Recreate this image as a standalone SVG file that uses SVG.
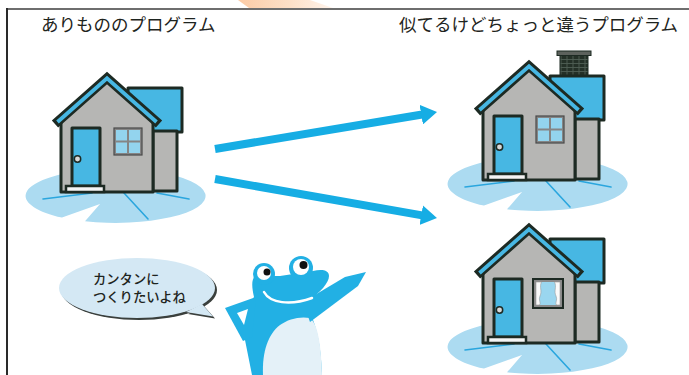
<svg xmlns="http://www.w3.org/2000/svg" width="689" height="375" viewBox="0 0 689 375">
  <defs>
    <style>
      .title{font-family:"Noto Sans CJK JP","Noto Sans CJK SC",sans-serif;font-size:17.5px;font-weight:400;fill:#1e2420}
      .say{font-family:"Noto Sans CJK JP","Noto Sans CJK SC",sans-serif;font-size:13.3px;font-weight:500;fill:#1e2420}
      .ol{stroke:#1d2a23;stroke-width:3;stroke-linejoin:round}
      .wall{fill:#b6b6b4}
      .blue{fill:#47b7e3}
      .pad{fill:#acdbf1}
      .vein{stroke:#2aa6de;stroke-width:1.6;fill:none;stroke-linecap:round}
      .arrow{stroke:#16ade4;stroke-width:8;fill:none}
      .frog{fill:#22b0e4}
    </style>
    <marker id="head" viewBox="0 -10 16 20" refX="1" refY="0" markerWidth="16" markerHeight="20" markerUnits="userSpaceOnUse" orient="auto">
      <path d="M0,-10 L16,0 L0,10 Z" fill="#16ade4"/>
    </marker>
    <linearGradient id="tab" x1="0" y1="0" x2="1" y2="0">
      <stop offset="0" stop-color="#fbcba6"/>
      <stop offset="0.55" stop-color="#fde0c8"/>
      <stop offset="1" stop-color="#fff4ec"/>
    </linearGradient>
    <pattern id="brick" width="6" height="4" patternUnits="userSpaceOnUse">
      <rect width="6" height="4" fill="#243027"/>
      <path d="M0 3.5H6M1 0V3.5" stroke="#56645a" stroke-width="0.8"/>
    </pattern>

    <!-- shared house: pad, walls, roofs, door and step -->
    <g id="house-shell">
      <path class="pad" d="M62 217.6 L100 204 L85 221.3 A90 27 0 1 0 62 217.6 Z"/>
      <path class="vein" d="M43 199 L92 193 M124 193 L148 219 M157 193 L189 199"/>
      <rect class="blue ol" x="128" y="88" width="54" height="44"/>
      <rect class="wall ol" x="153" y="131" width="24" height="60"/>
      <polygon class="wall ol" points="61,192 61,119 107,78 153,119 153,192"/>
      <polyline points="55,124 107,78 159,124" fill="none" stroke="#1d2a23" stroke-width="9.5" stroke-linejoin="miter"/>
      <polyline points="57.5,122 107,78.3 156.5,122" fill="none" stroke="#47b7e3" stroke-width="3.8" stroke-linejoin="miter"/>
      <rect class="blue ol" x="72" y="128" width="28" height="58"/>
      <circle cx="77.5" cy="159" r="3.2" fill="#d8d8d8" stroke="#1d2a23" stroke-width="1.5"/>
      <rect x="66" y="186" width="38" height="6" fill="#f4f4f4" stroke="#1d2a23" stroke-width="2.5"/>
    </g>

    <!-- four-pane window -->
    <g id="cross-window">
      <rect x="114" y="128" width="28" height="27" fill="#858585" stroke="#4a4a4a" stroke-width="1.2"/>
      <rect x="116" y="130" width="11" height="10.5" fill="#93d4ee"/>
      <rect x="129" y="130" width="11" height="10.5" fill="#93d4ee"/>
      <rect x="116" y="142.5" width="11" height="10.5" fill="#93d4ee"/>
      <rect x="129" y="142.5" width="11" height="10.5" fill="#93d4ee"/>
    </g>
  </defs>

  <!-- page frame -->
  <polygon points="238,0 310,0 333,8 249,8" fill="url(#tab)"/>
  <line x1="6" y1="9" x2="689" y2="9" stroke="#6e6e6e" stroke-width="2"/>
  <line x1="7" y1="8" x2="7" y2="375" stroke="#2a2a2a" stroke-width="2"/>

  <!-- headings -->
  <text class="title" x="41" y="31">ありもののプログラム</text>
  <text class="title" x="399" y="31">似てるけどちょっと違うプログラム</text>

  <!-- the existing house -->
  <g id="house-original">
    <use href="#house-shell"/>
    <use href="#cross-window"/>
  </g>

  <!-- variant with a chimney -->
  <g id="house-chimney" transform="translate(422,-12)">
    <rect x="138" y="67" width="28" height="21" fill="url(#brick)" stroke="#1d2a23" stroke-width="1"/>
    <rect x="135" y="63" width="34" height="4.5" fill="#5d625d" stroke="#1d2a23" stroke-width="1"/>
    <use href="#house-shell"/>
    <use href="#cross-window"/>
  </g>

  <!-- variant with curtains -->
  <g id="house-curtain" transform="translate(422,151)">
    <use href="#house-shell"/>
    <rect x="111" y="128" width="30" height="29" fill="#8a8a8a" stroke="#1d2a23" stroke-width="2"/>
    <rect x="114" y="131" width="24" height="23" fill="#9ad6ef"/>
    <path d="M114 131 L119.5 131 C117 136,120.5 140,118 145 C116 149,119.5 152,117.5 154 L114 154 Z" fill="#fafafa" stroke="#9a9a9a" stroke-width="0.6"/>
    <path d="M138 131 L132.5 131 C135 136,131.5 140,134 145 C136 149,132.5 152,134.5 154 L138 154 Z" fill="#fafafa" stroke="#9a9a9a" stroke-width="0.6"/>
  </g>

  <!-- connectors -->
  <g id="connectors">
    <line class="arrow" x1="215" y1="149" x2="422.2" y2="114.5" marker-end="url(#head)"/>
    <line class="arrow" x1="215" y1="179" x2="422.2" y2="215.4" marker-end="url(#head)"/>
  </g>

  <!-- speech bubble -->
  <g id="bubble">
    <ellipse cx="139" cy="290" rx="78" ry="30" fill="#3a3f3c"/>
    <path d="M188 314 L215 318.5 L204 306 Z" fill="#3a3f3c"/>
    <path d="M186 312 L213 316.5 L202 304 Z" fill="#d4e8f4"/>
    <ellipse cx="137" cy="288" rx="78" ry="30" fill="#d4e8f4"/>
    <text class="say" x="93" y="284">カンタンに</text>
    <text class="say" x="93" y="302">つくりたいよね</text>
  </g>

  <!-- frog -->
  <g id="frog">
    <path class="frog" d="M252 375 L245 340 C243 325,248 305,254 297 C252 288,251 280,255 276 L280 276 L313 271 C322 269,329 270,329 276 C329 283,320 292,310 300 L305 303 C315 320,321 340,322 375 Z"/>
    <path d="M263 375 C262 352,268 334,280 325 C288 319,300 316,310 318 C318 324,321 345,322 375 Z" fill="#e4f1f8"/>
    <polygon class="frog" points="256,297 225,308 243,341 252,337"/>
    <polygon points="237,313 248,309 244,325" fill="#ffffff"/>
    <polygon class="frog" points="303,302 345,277 366,272 358,286 310,322"/>
    <circle class="frog" cx="264" cy="274" r="11"/>
    <circle class="frog" cx="301" cy="268" r="12"/>
    <circle cx="264" cy="273" r="7" fill="#ffffff"/>
    <circle cx="267" cy="272" r="3.5" fill="#111"/>
    <circle cx="301" cy="267" r="8" fill="#ffffff"/>
    <circle cx="303.5" cy="265" r="4" fill="#111"/>
    <path d="M264 292 C270 303,290 306,312 298" fill="none" stroke="#ffffff" stroke-width="2.5" stroke-linecap="round"/>
  </g>
</svg>
